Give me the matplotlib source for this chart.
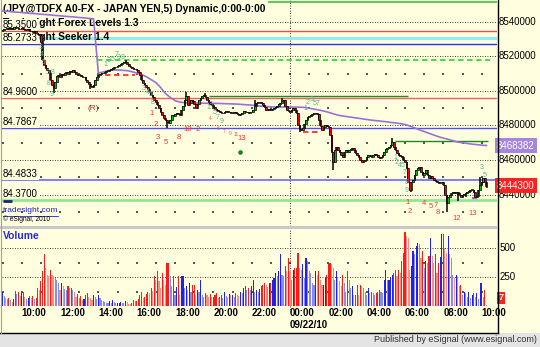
import matplotlib
matplotlib.use("Agg")
import matplotlib.pyplot as plt
import numpy as np
from matplotlib.transforms import blended_transform_factory

plt.rcParams["font.family"] = ["Liberation Sans", "DejaVu Sans"]

# 5-minute closes, one row per hour (09:00 on 9/21 through 10:15 on 9/22)
closes = [
    85.354, 85.360, 85.358, 85.365, 85.360, 85.366, 85.362, 85.370, 85.364, 85.366, 85.362, 85.358,
    85.365, 85.360, 85.352, 85.355, 85.358, 85.350, 85.346, 85.342, 85.345, 85.338, 85.333, 85.325,
    85.284, 85.180, 85.150, 85.133, 85.122, 85.104, 85.064, 85.035, 85.017, 85.052, 85.087, 85.093,
    85.081, 85.098, 85.093, 85.104, 85.110, 85.098, 85.116, 85.110, 85.122, 85.110, 85.098, 85.093,
    85.093, 85.087, 85.081, 85.081, 85.064, 85.052, 85.041, 85.029, 85.023, 85.035, 85.064, 85.081,
    85.093, 85.098, 85.104, 85.104, 85.110, 85.116, 85.116, 85.122, 85.127, 85.133, 85.139, 85.139,
    85.145, 85.151, 85.156, 85.162, 85.168, 85.168, 85.156, 85.145, 85.139, 85.133, 85.127, 85.127,
    85.122, 85.110, 85.093, 85.064, 85.046, 85.035, 85.023, 85.012, 84.994, 84.977, 84.965, 84.948,
    84.936, 84.919, 84.901, 84.878, 84.861, 84.843, 84.832, 84.820, 84.814, 84.832, 84.861, 84.855,
    84.866, 84.872, 84.866, 84.861, 84.890, 84.913, 84.948, 84.971, 84.919, 84.930, 84.948, 84.942,
    84.925, 84.901, 84.925, 84.948, 84.959, 84.971, 84.977, 84.965, 84.948, 84.936, 84.925, 84.919,
    84.907, 84.896, 84.890, 84.884, 84.878, 84.872, 84.872, 84.878, 84.884, 84.878, 84.878, 84.872,
    84.872, 84.878, 84.872, 84.866, 84.861, 84.866, 84.872, 84.884, 84.878, 84.878, 84.872, 84.878,
    84.878, 84.890, 84.913, 84.930, 84.936, 84.936, 84.930, 84.919, 84.907, 84.890, 84.890, 84.896,
    84.890, 84.896, 84.901, 84.907, 84.913, 84.925, 84.930, 84.942, 84.948, 84.913, 84.890, 84.884,
    84.878, 84.890, 84.901, 84.890, 84.872, 84.803, 84.780, 84.774, 84.785, 84.808, 84.832, 84.849,
    84.855, 84.861, 84.866, 84.872, 84.872, 84.866, 84.832, 84.797, 84.774, 84.791, 84.803, 84.797,
    84.791, 84.745, 84.646, 84.588, 84.658, 84.675, 84.658, 84.646, 84.629, 84.617, 84.646, 84.658,
    84.646, 84.658, 84.664, 84.670, 84.658, 84.641, 84.629, 84.617, 84.600, 84.588, 84.594, 84.600,
    84.617, 84.629, 84.623, 84.617, 84.629, 84.635, 84.629, 84.617, 84.611, 84.617, 84.629, 84.646,
    84.664, 84.670, 84.675, 84.687, 84.704, 84.675, 84.658, 84.641, 84.629, 84.623, 84.617, 84.600,
    84.588, 84.554, 84.472, 84.426, 84.472, 84.484, 84.513, 84.542, 84.554, 84.559, 84.530, 84.513,
    84.525, 84.542, 84.513, 84.496, 84.507, 84.496, 84.484, 84.478, 84.472, 84.467, 84.472, 84.472,
    84.455, 84.397, 84.351, 84.386, 84.397, 84.409, 84.415, 84.409, 84.415, 84.409, 84.397, 84.386,
    84.397, 84.403, 84.409, 84.415, 84.420, 84.426, 84.426, 84.415, 84.386, 84.391, 84.426, 84.455,
    84.472, 84.496, 84.472, 84.443,
]
first_open = 85.350

# wicks that stick out past the bodies (bar index -> price)
spike_highs = {24: 85.330, 77: 85.180, 115: 84.994, 127: 84.988, 158: 84.945,
               175: 84.959, 244: 84.727, 299: 84.500}
spike_lows = {32: 84.988, 55: 85.010, 103: 84.785, 186: 84.765, 207: 84.542,
              256: 84.415, 278: 84.298, 285: 84.360, 290: 84.386}

volumes = [
    125, 90, 73, 60, 73, 50, 38, 60, 130, 100, 125, 90,
    110, 125, 80, 61, 73, 90, 73, 85, 61, 70, 154, 140,
    212, 300, 450, 328, 270, 260, 314, 270, 256, 241, 227, 200,
    140, 198, 169, 150, 140, 169, 154, 154, 140, 120, 81, 100,
    67, 90, 52, 60, 96, 110, 81, 70, 52, 96, 81, 60,
    96, 70, 52, 45, 38, 30, 23, 40, 23, 52, 35, 23,
    23, 30, 38, 25, 23, 45, 38, 20, 15, 30, 52, 40,
    44, 60, 96, 125, 70, 81, 100, 125, 110, 154, 130, 256,
    227, 300, 212, 154, 285, 227, 180, 372, 372, 256, 169, 256,
    96, 160, 256, 96, 256, 256, 154, 170, 140, 198, 125, 183,
    183, 96, 140, 125, 227, 96, 81, 110, 96, 81, 100, 81,
    81, 96, 110, 67, 80, 96, 70, 125, 90, 81, 100, 96,
    96, 80, 110, 96, 90, 125, 110, 154, 169, 140, 154, 140,
    169, 227, 125, 140, 125, 150, 169, 183, 198, 183, 160, 198,
    198, 220, 241, 285, 260, 300, 445, 270, 256, 343, 300, 416,
    300, 227, 314, 328, 328, 459, 328, 314, 358, 241, 416, 387,
    300, 285, 198, 183, 300, 270, 300, 220, 183, 183, 241, 270,
    358, 372, 358, 328, 227, 300, 241, 212, 169, 270, 200, 125,
    300, 227, 154, 169, 96, 96, 183, 96, 183, 169, 154, 125,
    96, 154, 110, 125, 110, 96, 110, 125, 140, 125, 110, 227,
    314, 227, 227, 241, 270, 285, 314, 256, 314, 285, 387, 459,
    634, 605, 590, 314, 343, 474, 445, 517, 547, 532, 416, 474,
    328, 387, 372, 430, 590, 430, 372, 445, 285, 372, 420, 619,
    619, 503, 459, 605, 445, 416, 270, 241, 270, 256, 169, 183,
    96, 125, 110, 81, 125, 67, 96, 110, 81, 110, 60, 198,
    198, 81, 140, 7,
]

# purple study line, one value every 3 bars
purple_line = [
    85.464, 85.462, 85.459, 85.457, 85.455, 85.452, 85.450, 85.448, 85.445, 85.443,
    85.441, 85.438, 85.436, 85.433, 85.431, 85.429, 85.426, 85.424, 85.421, 85.418,
    85.104, 85.110, 85.118, 85.122, 85.122, 85.120, 85.118, 85.112, 85.104, 85.096,
    85.083, 85.066, 85.049, 85.020, 84.985, 84.963, 84.944, 84.936, 84.932, 84.930,
    84.930, 84.930, 84.929, 84.929, 84.928, 84.928, 84.927, 84.926, 84.925, 84.924,
    84.922, 84.920, 84.918, 84.915, 84.912, 84.910, 84.908, 84.907, 84.907, 84.907,
    84.907, 84.907, 84.906, 84.905, 84.900, 84.895, 84.890, 84.884, 84.877, 84.868,
    84.860, 84.855, 84.851, 84.847, 84.843, 84.839, 84.835, 84.831, 84.828, 84.825,
    84.822, 84.818, 84.815, 84.811, 84.806, 84.797, 84.786, 84.775, 84.765, 84.755,
    84.745, 84.735, 84.727, 84.720, 84.712, 84.704, 84.700, 84.696, 84.692, 84.689,
    84.686, 84.684,
]
purple_last = "8468382"
last_close_label = "8444300"

# levels
level_prices = [85.3500, 85.2733, 84.9600, 84.7867, 84.4833, 84.3700]
level_labels = ["85.3500", "85.2733", "84.9600", "84.7867", "84.4833", "84.3700"]
cyan_level = 85.31
top_green_level = 85.518
grid_major = [85.40, 85.20, 85.00, 84.80, 84.60, 84.40]
grid_minor = [85.30, 85.10, 84.90, 84.70, 84.50, 84.30]

time_ticks = [12, 36, 60, 84, 108, 132, 156, 180, 204, 228, 252, 276, 300]
time_labels = ["10:00", "12:00", "14:00", "16:00", "18:00", "20:00", "22:00",
               "00:00", "02:00", "04:00", "06:00", "08:00", "10:00"]
day_break = 180

# count marks: (text, bar, price)
red_counts = [
    ("1", 93.6, 84.867), ("2", 96.1, 84.803), ("3", 97.3, 84.733), ("5", 102.4, 84.704),
    ("8", 110.5, 84.733), ("10", 116.1, 84.774), ("2", 122.4, 84.774), ("13", 150.0, 84.722),
    ("1", 253.9, 84.351), ("2", 255.1, 84.304), ("4", 263.9, 84.345), ("5", 268.3, 84.333),
    ("7", 271.4, 84.339), ("8", 272.7, 84.298), ("12", 284.6, 84.258), ("13", 294.6, 84.287),
]
red_small = [("4", 129.9, 84.838), ("6", 134.9, 84.785), ("7", 138.7, 84.768),
             ("9", 142.4, 84.756), ("11", 146.2, 84.745)]
setup_counts = [
    ("3", 24.1, 85.255), ("4", 24.7, 85.209), ("5", 26.0, 85.168), ("3", 28.5, 85.110),
    ("8", 31.6, 85.110), ("8", 29.1, 85.041), ("9", 31.0, 84.977),
    ("1", 64.2, 85.151), ("3", 66.7, 85.174), ("5", 69.2, 85.185), ("7", 71.1, 85.214),
    ("3", 72.9, 85.197), ("9", 75.4, 85.197),
    ("3", 88.6, 85.012), ("4", 91.1, 84.994), ("5", 93.0, 84.977), ("8", 94.2, 84.936),
    ("1", 128.7, 84.907), ("3", 130.5, 84.919), ("5", 133.0, 84.878), ("7", 134.9, 84.849),
    ("9", 137.4, 84.826),
    ("1", 189.4, 84.901), ("2", 191.3, 84.936), ("3", 193.8, 84.948), ("5", 195.7, 84.925),
    ("7", 197.5, 84.925),
    ("1", 245.7, 84.612), ("2", 247.0, 84.583), ("4", 248.9, 84.571), ("5", 250.8, 84.571),
    ("7", 252.0, 84.525), ("8", 253.3, 84.467), ("9", 253.3, 84.426),
    ("3", 300.2, 84.554), ("5", 302.1, 84.513),
]
green_dot = (148.7, 84.646)
reversal_mark = ("(R)", 56.6, 84.901)

W, H = 540, 347
BG = "#FFFFE0"
fig = plt.figure(figsize=(W / 100, H / 100), dpi=100, facecolor=BG)


def box(x0, y0, x1, y1):
    return [x0 / W, 1 - y1 / H, (x1 - x0) / W, (y1 - y0) / H]


def ftext(x, y, s, **kw):
    fig.text(x / W, 1 - y / H, s, **kw)


ax = fig.add_axes(box(2, 0, 497, 226), facecolor=BG)
axv = fig.add_axes(box(2, 229, 497, 306), facecolor=BG)
XMIN, XMAX = -0.34, 309.6
for a in (ax, axv):
    a.set_xlim(XMIN, XMAX)
    for s in a.spines.values():
        s.set_visible(False)
    a.tick_params(left=False, right=False, top=False, bottom=False,
                  labelleft=False, labelbottom=False)
ax.set_ylim(84.2174, 85.5275)
axv.set_ylim(0, 664)
btr = blended_transform_factory(ax.transAxes, ax.transData)
# pixel rows inside the price panel, for the title lines
bpx = blended_transform_factory(ax.transAxes, fig.transFigure)

closes = np.array(closes)
n = len(closes)
idx = np.arange(n)
opens = np.r_[first_open, closes[:-1]]
highs = np.maximum(opens, closes)
lows = np.minimum(opens, closes)
for k, v in spike_highs.items():
    highs[k] = max(highs[k], v)
for k, v in spike_lows.items():
    lows[k] = min(lows[k], v)

# grid
for p in grid_major:
    ax.axhline(p, color="black", lw=0.6, ls=(0, (1, 2)), zorder=1)
hours = np.arange(0, n, 12)
for p in grid_minor:
    ax.scatter(hours, [p] * len(hours), s=0.6, color="#555555", marker="s", lw=0, zorder=1)
ax.axvline(day_break, color="black", lw=0.6, ls=(0, (1, 2)), zorder=1)

# levels
lvl_styles = [("#FF4A4A", 1.0), ("#3030E0", 1.0), ("#F06060", 1.0),
              ("#5050F0", 1.0), ("#6868FF", 1.2), ("#8CEB8C", 2.0)]
for p, (c, lw) in zip(level_prices, lvl_styles):
    ax.axhline(p, color=c, lw=lw, zorder=1.2)
ax.axhline(cyan_level, color="#8CF0F0", lw=2.2, zorder=1.1)
ax.hlines(top_green_level, 166, XMAX, color="#40C040", lw=1.2, zorder=1.2)
ax.hlines(85.18, 59, 305, color="#30DD30", lw=1.3, ls=(0, (3, 2)), zorder=1.3)
ax.hlines(85.093, 64, 83, color="#FF3030", lw=1.3, ls=(0, (3, 2)), zorder=1.3)
ax.hlines(84.762, 188, 198, color="#FF3030", lw=1.3, ls=(0, (3, 2)), zorder=1.3)
ax.hlines(84.971, 129, 254, color="#208A20", lw=1.0, zorder=1.3)
ax.hlines(84.710, 246, 304, color="#208A20", lw=1.0, zorder=1.3)
ax.hlines(84.380, 294, 297, color="#E040E0", lw=1.5, zorder=1.3)
ax.hlines(84.362, 0, 6, color="#1A237E", lw=2.0, zorder=1.3)

# purple study
ax.plot(np.arange(0, n, 3), purple_line, color="#9A70D8", lw=1.2, zorder=2.5)

# titles, then level labels painted over their left ends
for ypix, title in [(9, "(JPY@TDFX A0-FX - JAPAN YEN,5) Dynamic,0:00-0:00"),
                    (23, "Tradesight Forex Levels 1.3"),
                    (37, "Tradesight Seeker 1.4")]:
    ax.text(0.002, 1 - ypix / H, title, transform=bpx, fontsize=7.4, fontweight="bold",
            va="center", zorder=1.5)
for p, lab in zip(level_prices, level_labels):
    ax.text(0.002, p + 0.006, lab, transform=btr, fontsize=7, va="bottom", ha="left",
            bbox=dict(boxstyle="square,pad=0.08", fc=BG, ec="none"), zorder=2)

# candles
ax.vlines(idx, lows, highs, color="black", lw=1.1, zorder=3)
up = closes >= opens
ax.bar(idx, np.maximum(np.abs(closes - opens), 0.003), bottom=np.minimum(opens, closes),
       width=1.0, color=np.where(up, "#00C000", "#FF0000"), edgecolor="black", lw=0.5, zorder=3.2)

# counts
for t, b, p in red_counts:
    ax.text(b, p, t, color="#FF3030", fontsize=5.5, ha="center", va="center", zorder=4)
for t, b, p in red_small:
    ax.text(b, p, t, color="#FF5050", fontsize=3.5, ha="center", va="center", zorder=4)
for t, b, p in setup_counts:
    ax.text(b, p, t, color="#4DB38C", fontsize=5, ha="center", va="center", zorder=4)
ax.scatter([green_dot[0]], [green_dot[1]], s=5, color="#108010", zorder=4)
ax.text(reversal_mark[1], reversal_mark[2], reversal_mark[0], color="#A03030",
        fontsize=6, ha="center", va="center", zorder=4)

ftext(3, 211, "tradesight.com", fontsize=6, color="#2020D0", va="center")
fig.lines.append(plt.Line2D([3 / W, 58 / W], [1 - 215.5 / H] * 2, color="#2020D0", lw=0.6,
                            transform=fig.transFigure))
ftext(3, 219.5, "\u00a9 eSignal, 2010", fontsize=4.8, va="center")

# right price scale
for p in grid_major:
    ax.text(1.004, p, f"{p * 1e5:.0f}", transform=btr, fontsize=7, va="center", ha="left",
            clip_on=False, zorder=5)
ax.text(1.0, purple_line[-1], purple_last, transform=btr, fontsize=7, va="center", ha="left",
        color="white", clip_on=False, zorder=6,
        bbox=dict(boxstyle="square,pad=0.25", fc="#A585DD", ec="none"))
ax.text(1.0, closes[-1] + 0.008, last_close_label, transform=btr, fontsize=7, va="center",
        ha="left", color="white", clip_on=False, zorder=6,
        bbox=dict(boxstyle="square,pad=0.25", fc="#FF2020", ec="none"))

# volume panel
volumes = np.array(volumes)
vol_rise = np.r_[True, volumes[1:] >= volumes[:-1]]
vcol = np.where(up, np.where(vol_rise, "#2020F0", "#8A8AF5"),
                np.where(vol_rise, "#FF1A1A", "#FF8A8A"))
axv.bar(idx, volumes, width=0.7, color=vcol, lw=0, zorder=3)
for v in (500, 250):
    axv.axhline(v, color="black", lw=0.6, ls=(0, (1, 2)), zorder=1)
for v in (375, 125):
    axv.scatter(hours, [v] * len(hours), s=0.6, color="#555555", marker="s", lw=0, zorder=1)
axv.axvline(day_break, color="black", lw=0.6, ls=(0, (1, 2)), zorder=1)
bvr = blended_transform_factory(axv.transAxes, axv.transData)
for v in (500, 250):
    axv.text(1.006, v, str(v), transform=bvr, fontsize=7, va="center", ha="left", clip_on=False)
axv.text(1.003, 70, str(volumes[-1]), transform=bvr, fontsize=6.5, fontweight="bold",
         va="center", ha="left", color="white", clip_on=False,
         bbox=dict(boxstyle="square,pad=0.15", fc="#FF2020", ec="none"))
ftext(3, 236, "Volume", fontsize=7.4, fontweight="bold", color="#2828E0", va="center")

btv = blended_transform_factory(axv.transData, fig.transFigure)
for b, lab in zip(time_ticks, time_labels):
    axv.text(b, 1 - 313 / H, lab, transform=btv, fontsize=7, fontweight="bold",
             ha="left", va="center", clip_on=False)
axv.text(day_break, 1 - 325 / H, "09/22/10", transform=btv, fontsize=7, fontweight="bold",
         ha="left", va="center", clip_on=False)
axv.vlines(day_break, 0, -0.09, transform=blended_transform_factory(axv.transData, axv.transAxes),
           color="black", lw=0.6, ls=(0, (1, 2)), clip_on=False)

# frame pieces
fig.patches.append(plt.Rectangle((0, 1 - 229 / H), 497 / W, 3 / H, transform=fig.transFigure,
                                 fc="#C8C8C8", ec="none"))
fig.patches.append(plt.Rectangle((0, 0), 1, 14 / H, transform=fig.transFigure,
                                 fc="#E4E4E4", ec="none"))
fig.lines.append(plt.Line2D([497.5 / W] * 2, [1 - 333 / H, 1], color="black", lw=1.0,
                            transform=fig.transFigure))
fig.lines.append(plt.Line2D([0, 497.5 / W], [1 - 332.5 / H] * 2, color="black", lw=1.0,
                            transform=fig.transFigure))
fig.lines.append(plt.Line2D([0.5 / W] * 2, [1 - 333 / H, 1], color="#A0A0A0", lw=0.8,
                            transform=fig.transFigure))
ftext(537, 340, "Published by eSignal (www.esignal.com)", fontsize=6.5, color="#303030",
      ha="right", va="center")

fig.savefig("out.png", dpi=100, facecolor=BG)
